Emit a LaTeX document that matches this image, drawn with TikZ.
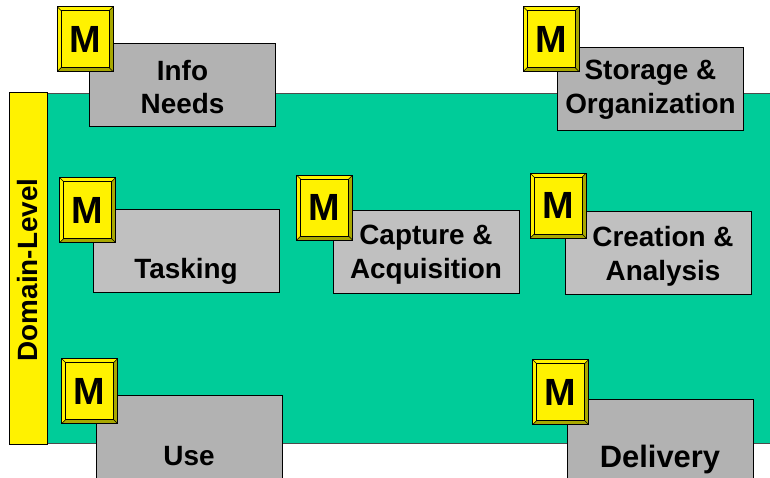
\documentclass[tikz,border=0pt]{standalone}
\usepackage{fontspec}
\setmainfont{Liberation Sans}
\usetikzlibrary{positioning}

\definecolor{domaingreen}{RGB}{0,204,153}
\definecolor{boxgray}{RGB}{178,178,178}
\definecolor{boxlight}{RGB}{192,192,192}
\definecolor{mdark}{RGB}{168,168,0}

\tikzset{
  mtile/.style={draw=black, fill=yellow, minimum width=56bp, minimum height=65bp,
    inner sep=0pt, font=\fontsize{38}{38}\selectfont\bfseries,
    path picture={
      \fill[mdark] (path picture bounding box.south west)
        -- (path picture bounding box.south east)
        -- (path picture bounding box.north east)
        -- ([shift={(-4bp,-4bp)}]path picture bounding box.north east)
        -- ([shift={(-4bp,4bp)}]path picture bounding box.south east)
        -- ([shift={(4bp,4bp)}]path picture bounding box.south west) -- cycle;
      \draw[line width=0.7bp] ([shift={(4bp,4bp)}]path picture bounding box.south west)
        rectangle ([shift={(-4bp,-4bp)}]path picture bounding box.north east);
      \draw[line width=0.5bp]
        (path picture bounding box.south west) -- ([shift={(4bp,4bp)}]path picture bounding box.south west)
        (path picture bounding box.north east) -- ([shift={(-4bp,-4bp)}]path picture bounding box.north east)
        (path picture bounding box.north west) -- ([shift={(4bp,-4bp)}]path picture bounding box.north west)
        (path picture bounding box.south east) -- ([shift={(-4bp,4bp)}]path picture bounding box.south east);
    }},
  area/.style={draw=black, line width=0.8bp, minimum width=186bp, minimum height=83bp,
    inner sep=0pt},
  lbl/.style={font=\fontsize{28}{34}\selectfont\bfseries, inner sep=0pt, align=center}
}

\begin{document}
\begin{tikzpicture}[x=1bp,y=1bp]

  \useasboundingbox (0,0) rectangle (770,478);
  \clip (0,0) rectangle (770,478);

  % domain background
  \node[draw=black!70, line width=0.8bp, fill=domaingreen, minimum width=735bp, minimum height=350bp,
        inner sep=0pt] (domain) at (412.5,210) {};
  \node[draw=black, line width=0.8bp, fill=yellow, minimum width=38bp, minimum height=352bp,
        inner sep=0pt] (bar) at (28,210) {};
  \node[lbl, rotate=90] (dlevel) at ([yshift=-2bp]bar.center) {Domain-Level};

  % activity boxes
  \node[area, fill=boxgray]  (info)     at (182.5,393.5) {};
  \node[area, fill=boxgray]  (storage)  at (650.5,389)   {};
  \node[area, fill=boxlight] (task)     at (186,227.5)   {};
  \node[area, fill=boxlight] (capture)  at (426,226.5)   {};
  \node[area, fill=boxlight] (creation) at (658.5,225.5) {};
  \node[area, fill=boxgray]  (use)      at (189,41.5)    {};
  \node[area, fill=boxgray]  (delivery) at (660,37.5)    {};

  \node[lbl] (infolbl)     at ([yshift=-2.5bp]info.center)                {Info\\Needs};
  \node[lbl] (storagelbl)  at ([yshift=-1bp]storage.center)               {Storage \&\\Organization};
  \node[lbl] (tasklbl)     at ([yshift=-20.5bp]task.center)               {Tasking};
  \node[lbl] (capturelbl)  at ([yshift=-3bp]capture.center)               {Capture \&\\Acquisition};
  \node[lbl] (creationlbl) at ([shift={(4.5bp,-4bp)}]creation.center)     {Creation \&\\Analysis};
  \node[lbl] (uselbl)      at ([yshift=-20bp]use.center)                  {Use};
  \node[lbl, font=\fontsize{31}{34}\selectfont\bfseries]
             (dellbl)      at ([yshift=-19.5bp]delivery.center)           {Delivery};

  % M tiles
  \node[mtile] (minfo)     at ([shift={(-4bp,3.5bp)}]info.north west)      {M};
  \node[mtile] (mstorage)  at ([shift={(-6bp,8bp)}]storage.north west)     {M};
  \node[mtile] (mtask)     at ([shift={(-5bp,-1.5bp)}]task.north west)     {M};
  \node[mtile] (mcapture)  at ([shift={(-8bp,2bp)}]capture.north west)     {M};
  \node[mtile] (mcreation) at ([shift={(-7bp,5bp)}]creation.north west)    {M};
  \node[mtile] (muse)      at ([shift={(-6bp,3.5bp)}]use.north west)       {M};
  \node[mtile] (mdelivery) at ([shift={(-6bp,6.5bp)}]delivery.north west)  {M};

\end{tikzpicture}
\end{document}
